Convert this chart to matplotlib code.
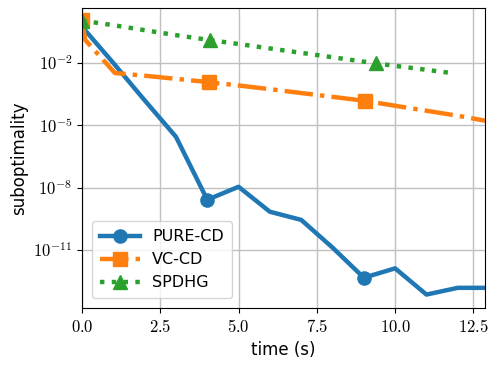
import math

import matplotlib
matplotlib.use("Agg")
import matplotlib.pyplot as plt
from matplotlib.ticker import FixedLocator, FuncFormatter, NullLocator

# time (s) and suboptimality
PURE_T = [0, 1, 2, 3, 4, 5, 6, 7, 8, 9, 10, 11, 12, 13]
PURE_Y = [0.56, 1.0e-2, 1.6e-4, 2.8e-6, 2.6e-9, 1.1e-8, 6.9e-10, 2.8e-10,
          1.3e-11, 4.6e-13, 1.3e-12, 7.1e-14, 1.5e-13, 1.5e-13]

VC_T = [0, 0.1, 1.05, 2.05, 3.05, 4.05, 5.05, 6.05, 7.05, 8.05, 9.05,
        10.05, 11.05, 12.05, 13.05]
VC_Y = [1.2, 0.13, 3.3e-3, 2.4e-3, 1.7e-3, 1.2e-3, 8.1e-4, 5.4e-4, 3.5e-4,
        2.3e-4, 1.5e-4, 8.5e-5, 4.9e-5, 2.8e-5, 1.5e-5]

SPDHG_T = [0, 1.03, 2.05, 3.08, 4.1, 5.16, 6.22, 7.28, 8.34, 9.4, 10.6, 11.8]
SPDHG_Y = [1.1, 0.65, 0.37, 0.21, 0.126, 0.076, 0.045, 0.027, 0.016,
           9.5e-3, 5.6e-3, 3.3e-3]

X_TICKS = [0.0, 2.5, 5.0, 7.5, 10.0, 12.5]
Y_TICKS = [1e-2, 1e-5, 1e-8, 1e-11]

plt.rcParams.update({
    "font.size": 12,
    "mathtext.fontset": "cm",
})

fig = plt.figure(figsize=(4.98, 3.68), dpi=100)
ax = fig.add_axes([0.1647, 0.163, 0.8092, 0.815])

ax.plot(PURE_T, PURE_Y, color="#1f77b4", lw=3.2, ls="-", marker="o",
        ms=9.5, markevery=[4, 9], label="PURE-CD")
ax.plot(VC_T, VC_Y, color="#ff7f0e", lw=3.2, ls="-.", marker="s",
        ms=10.5, markevery=[0, 5, 10], label="VC-CD")
ax.plot(SPDHG_T, SPDHG_Y, color="#2ca02c", lw=3.2, ls=":", marker="^",
        ms=10.5, markevery=[0, 4, 9], label="SPDHG")

ax.set_yscale("log")
ax.set_xlim(0, 12.87)
ax.set_ylim(1.6e-14, 4.4)

ax.xaxis.set_major_locator(FixedLocator(X_TICKS))
ax.xaxis.set_major_formatter(FuncFormatter(lambda v, p: f"${v:.1f}$"))
ax.yaxis.set_major_locator(FixedLocator(Y_TICKS))
ax.yaxis.set_minor_locator(NullLocator())
ax.yaxis.set_major_formatter(
    FuncFormatter(lambda v, p: "$10^{%d}$" % round(math.log10(v))))

ax.grid(True, color="#c0c0c0", lw=1.0)
ax.set_axisbelow(True)
ax.set_xlabel("time (s)")
ax.set_ylabel("suboptimality")

ax.legend(loc="lower left", numpoints=1, handlelength=2.5, fontsize=11.5,
          labelspacing=0.5, borderpad=0.5, borderaxespad=0.6)

fig.savefig("out.png", dpi=100)
